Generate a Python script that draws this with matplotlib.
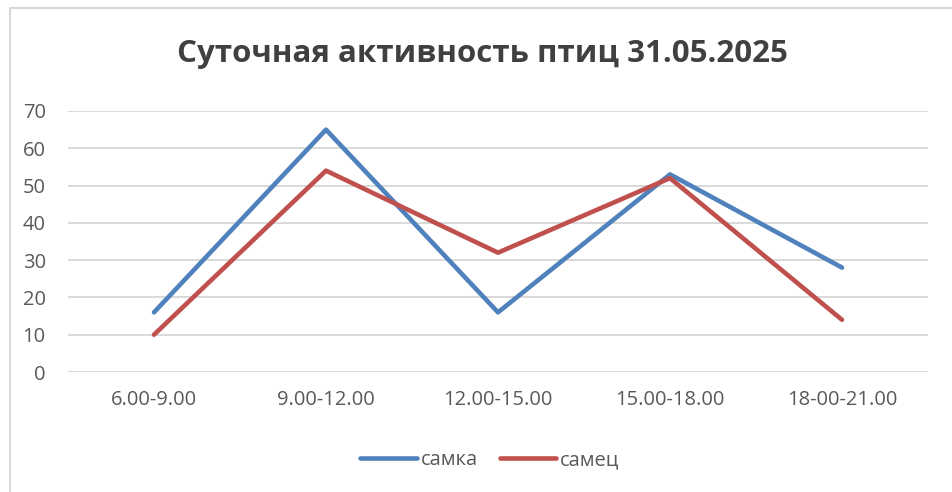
import matplotlib.pyplot as plt
from matplotlib.lines import Line2D
import numpy as np

# Chart data
periods = ["6.00-9.00", "9.00-12.00", "12.00-15.00", "15.00-18.00", "18-00-21.00"]
female = [16, 65, 16, 53, 28]
male = [10, 54, 32, 52, 14]
y_ticks = [0, 10, 20, 30, 40, 50, 60, 70]

plt.rcParams["font.family"] = ["Open Sans", "DejaVu Sans"]

TEXT = "#595959"
GRID = "#D9D9D9"

fig = plt.figure(figsize=(9.52, 4.92), dpi=100)
ax = fig.add_axes([68 / 952, 1 - 372 / 492, 860 / 952, 261 / 492])

x = np.arange(len(periods))
ax.plot(x, female, color="#4F81BD", linewidth=3.3, solid_capstyle="round",
        solid_joinstyle="round", label="самка")
ax.plot(x, male, color="#C0504D", linewidth=3.3, solid_capstyle="round",
        solid_joinstyle="round", label="самец")

ax.set_xlim(-0.5, len(periods) - 0.5)
ax.set_ylim(0, 70)
ax.set_yticks(y_ticks)
ax.set_xticks(x)
ax.set_xticklabels(periods)

ax.grid(axis="y", color=GRID, linewidth=1.4)
ax.set_axisbelow(True)
for s in ax.spines.values():
    s.set_visible(False)
ax.tick_params(axis="both", length=0, labelsize=14.5, labelcolor=TEXT)
ax.tick_params(axis="y", pad=16)
ax.tick_params(axis="x", pad=13)

fig.text(0.507, 1 - 54 / 492, "Суточная активность птиц 31.05.2025",
         ha="center", va="center", fontsize=22.5, fontweight="bold",
         color="#404040")

fig.legend(loc="center", bbox_to_anchor=(490 / 952, 1 - 460 / 492), ncol=2,
           frameon=False, fontsize=14.5, labelcolor=TEXT, handlelength=2.8,
           handletextpad=0.2, columnspacing=1.1)

# Chart area border (left and top edges visible)
fig.add_artist(Line2D([10 / 952, 10 / 952, 1.0], [0.0, 1 - 8 / 492, 1 - 8 / 492],
                      transform=fig.transFigure, color=GRID, linewidth=1.5))

fig.savefig("out.png", dpi=100)
